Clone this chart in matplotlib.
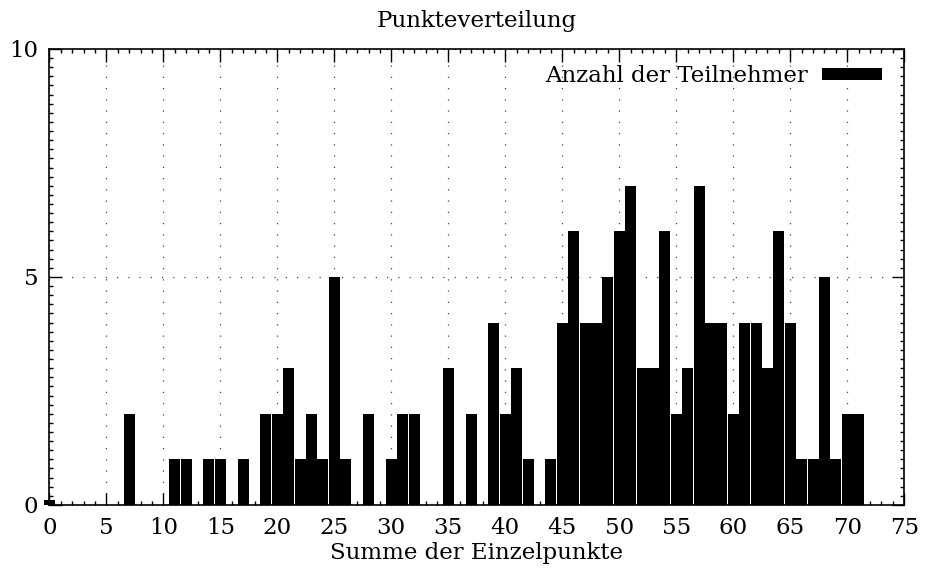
import numpy as np
import matplotlib
matplotlib.use("Agg")
import matplotlib.pyplot as plt
from matplotlib.ticker import MultipleLocator

# Punkte (Summe der Einzelpunkte) und Anzahl der Teilnehmer
punkte = list(range(0, 72))
anzahl = [
    0.1, 0, 0, 0, 0, 0, 0, 2, 0, 0,      # 0-9
    0, 1, 1, 0, 1, 1, 0, 1, 0, 2,        # 10-19
    2, 3, 1, 2, 1, 5, 1, 0, 2, 0,        # 20-29
    1, 2, 2, 0, 0, 3, 0, 2, 0, 4,        # 30-39
    2, 3, 1, 0, 1, 4, 6, 4, 4, 5,        # 40-49
    6, 7, 3, 3, 6, 2, 3, 7, 4, 4,        # 50-59
    2, 4, 4, 3, 6, 4, 1, 1, 5, 1,        # 60-69
    2, 2,                                # 70-71
]

plt.rcParams['font.family'] = ['DejaVu Serif']
fs = 16.5

fig = plt.figure(figsize=(9.27, 5.76), dpi=100)
ax = fig.add_axes([0.0532, 0.1233, 0.9223, 0.7917])

bars = ax.bar(punkte, anzahl, width=0.95, color='black', linewidth=0,
              label='Anzahl der Teilnehmer', zorder=3)
for b in bars:
    b.set_clip_on(False)

ax.set_xlim(0, 75)
ax.set_ylim(0, 10)
ax.xaxis.set_major_locator(MultipleLocator(5))
ax.xaxis.set_minor_locator(MultipleLocator(1))
ax.yaxis.set_major_locator(MultipleLocator(5))
ax.yaxis.set_minor_locator(MultipleLocator(0.2))
ax.tick_params(which='both', direction='in', top=True, right=True, labelsize=fs, width=1)
ax.tick_params(which='major', length=9)
ax.tick_params(axis='x', which='major', pad=9)
ax.tick_params(axis='y', which='major', pad=8)
ax.tick_params(which='minor', length=3)
ax.grid(True, which='major', linestyle=(0, (1, 8)), color='#444444', linewidth=0.9, zorder=1)

for s in ax.spines.values():
    s.set_linewidth(1.2)

ax.set_title('Punkteverteilung', fontsize=fs, pad=16)
ax.set_xlabel('Summe der Einzelpunkte', fontsize=fs, labelpad=2)

ax.legend(loc='upper right', bbox_to_anchor=(0.9735, 0.965), frameon=False,
          markerfirst=False, fontsize=fs, handlelength=2.6, handleheight=0.45,
          handletextpad=0.6, borderpad=0, borderaxespad=0)

fig.savefig('out.png', dpi=100)
